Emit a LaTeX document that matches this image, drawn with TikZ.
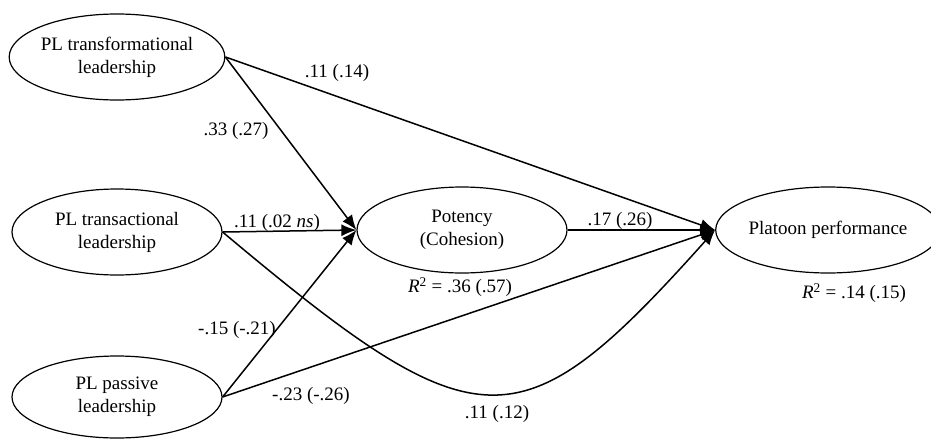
\documentclass[tikz,border=0pt]{standalone}
\usepackage{fontspec}
\setmainfont{Liberation Serif}
\usetikzlibrary{shapes.geometric,arrows.meta}
\begin{document}
\begin{tikzpicture}[x=1pt,y=-1pt,
  latent/.style={ellipse,draw,line width=1.2pt,minimum width=210pt,minimum height=86pt,inner sep=0pt,align=center,font=\fontsize{19}{23}\selectfont},
  pathedge/.style={line width=1.5pt,-{Latex[length=15pt,width=12pt]}},
  lab/.style={font=\fontsize{19}{22}\selectfont,inner sep=0pt}]
\useasboundingbox (0,0) rectangle (931,439);
\node[latent] (tf) at (117,57) {PL transformational\\leadership};
\node[latent] (ta) at (117,232) {PL transactional\\leadership};
\node[latent,minimum height=82pt] (pa) at (117,397) {PL passive\\leadership};
\node[latent] (po) at (462,230) {Potency\\(Cohesion)};
\node[latent,minimum width=200pt] (pp) at (828,230) {Platoon performance};
\draw[pathedge] (tf.east) -- (pp.west);
\draw[pathedge] (tf.east) -- (po.west);
\draw[pathedge] (ta.east) -- (po.west);
\draw[pathedge] (pa.east) -- (po.west);
\draw[pathedge] (ta.east) .. controls (480,448) and (520,448) .. (pp.west);
\draw[pathedge] (po.east) -- (pp.west);
\draw[pathedge] (pa.east) -- (pp.west);
\node[lab] (l1) at (337,73) {.11 (.14)};
\node[lab] (l2) at (236,131) {.33 (.27)};
\node[lab] (l3) at (277,223) {.11 (.02 \textit{ns})};
\node[lab] (l4) at (620,221) {.17 (.26)};
\node[lab] (l5) at (237,330) {-.15 (-.21)};
\node[lab] (l6) at (311,396) {-.23 (-.26)};
\node[lab] (l7) at (497,414) {.11 (.12)};
\node[lab] (r1) at (460,287) {\textit{R}\textsuperscript{2} = .36 (.57)};
\node[lab] (r2) at (854,293) {\textit{R}\textsuperscript{2} = .14 (.15)};
\end{tikzpicture}
\end{document}
